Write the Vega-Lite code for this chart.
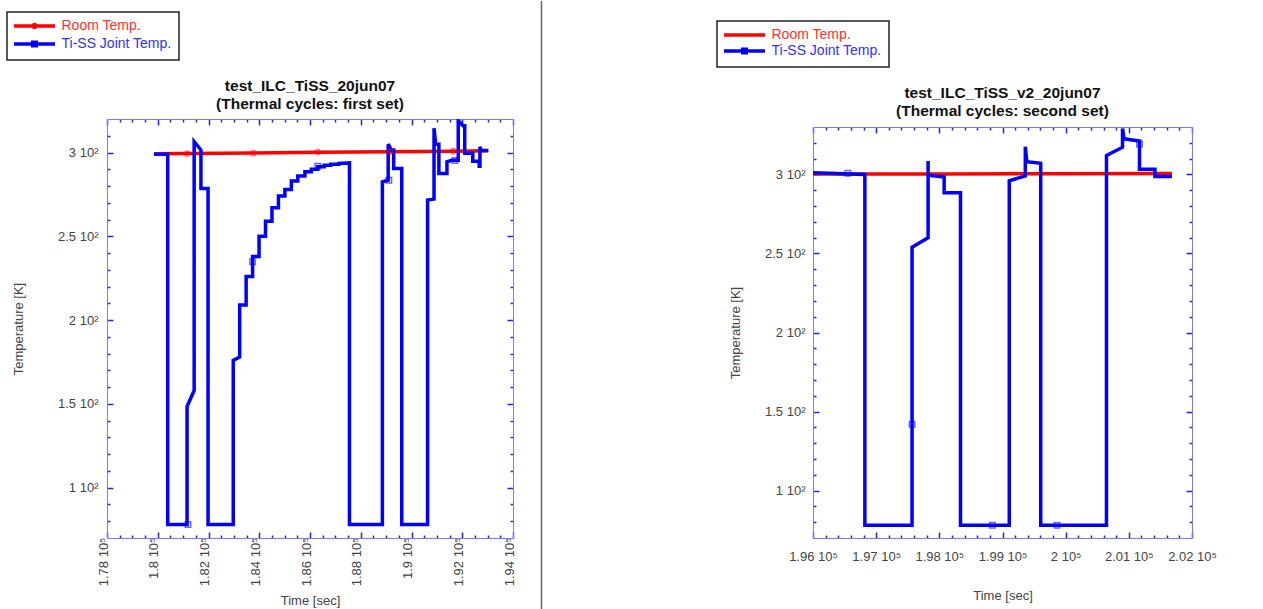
{
  "$schema": "https://vega.github.io/schema/vega-lite/v6.json",
  "padding": {"left": 6, "top": 0, "right": 5, "bottom": 0},
  "spacing": 24.5,
  "resolve": {"scale": {"color": "independent"}, "legend": {"color": "independent"}},
  "config": {
    "font": "Liberation Sans",
    "view": {"stroke": null},
    "axis": {"grid": false},
    "legend": {"strokeWidth": 1.5}
  },
  "datasets": {
    "sep": [{"v": 0}],
    "left_ti": [
      {"i": 1, "t": 179850, "T": 299, "series": "Ti-SS Joint Temp."},
      {"i": 2, "t": 180392, "T": 299, "series": "Ti-SS Joint Temp."},
      {"i": 3, "t": 180392, "T": 78, "series": "Ti-SS Joint Temp."},
      {"i": 4, "t": 181155, "T": 78, "series": "Ti-SS Joint Temp."},
      {"i": 5, "t": 181155, "T": 148.5, "series": "Ti-SS Joint Temp."},
      {"i": 6, "t": 181435, "T": 158, "series": "Ti-SS Joint Temp."},
      {"i": 7, "t": 181435, "T": 306.5, "series": "Ti-SS Joint Temp."},
      {"i": 8, "t": 181702, "T": 301.5, "series": "Ti-SS Joint Temp."},
      {"i": 9, "t": 181702, "T": 278.5, "series": "Ti-SS Joint Temp."},
      {"i": 10, "t": 181982, "T": 278.5, "series": "Ti-SS Joint Temp."},
      {"i": 11, "t": 181982, "T": 78, "series": "Ti-SS Joint Temp."},
      {"i": 12, "t": 182975, "T": 78, "series": "Ti-SS Joint Temp."},
      {"i": 13, "t": 182975, "T": 176, "series": "Ti-SS Joint Temp."},
      {"i": 14, "t": 183229, "T": 178, "series": "Ti-SS Joint Temp."},
      {"i": 15, "t": 183229, "T": 209, "series": "Ti-SS Joint Temp."},
      {"i": 16, "t": 183483, "T": 209, "series": "Ti-SS Joint Temp."},
      {"i": 17, "t": 183483, "T": 226, "series": "Ti-SS Joint Temp."},
      {"i": 18, "t": 183738, "T": 226, "series": "Ti-SS Joint Temp."},
      {"i": 19, "t": 183738, "T": 238, "series": "Ti-SS Joint Temp."},
      {"i": 20, "t": 183992, "T": 238, "series": "Ti-SS Joint Temp."},
      {"i": 21, "t": 183992, "T": 250, "series": "Ti-SS Joint Temp."},
      {"i": 22, "t": 184247, "T": 250, "series": "Ti-SS Joint Temp."},
      {"i": 23, "t": 184247, "T": 259, "series": "Ti-SS Joint Temp."},
      {"i": 24, "t": 184501, "T": 259, "series": "Ti-SS Joint Temp."},
      {"i": 25, "t": 184501, "T": 267, "series": "Ti-SS Joint Temp."},
      {"i": 26, "t": 184756, "T": 267, "series": "Ti-SS Joint Temp."},
      {"i": 27, "t": 184756, "T": 274, "series": "Ti-SS Joint Temp."},
      {"i": 28, "t": 185010, "T": 274, "series": "Ti-SS Joint Temp."},
      {"i": 29, "t": 185010, "T": 278, "series": "Ti-SS Joint Temp."},
      {"i": 30, "t": 185265, "T": 278, "series": "Ti-SS Joint Temp."},
      {"i": 31, "t": 185265, "T": 283, "series": "Ti-SS Joint Temp."},
      {"i": 32, "t": 185519, "T": 283, "series": "Ti-SS Joint Temp."},
      {"i": 33, "t": 185519, "T": 286, "series": "Ti-SS Joint Temp."},
      {"i": 34, "t": 185799, "T": 286, "series": "Ti-SS Joint Temp."},
      {"i": 35, "t": 185799, "T": 288.5, "series": "Ti-SS Joint Temp."},
      {"i": 36, "t": 186053, "T": 288.5, "series": "Ti-SS Joint Temp."},
      {"i": 37, "t": 186053, "T": 290, "series": "Ti-SS Joint Temp."},
      {"i": 38, "t": 186308, "T": 290, "series": "Ti-SS Joint Temp."},
      {"i": 39, "t": 186308, "T": 291.5, "series": "Ti-SS Joint Temp."},
      {"i": 40, "t": 186562, "T": 291.5, "series": "Ti-SS Joint Temp."},
      {"i": 41, "t": 186562, "T": 292.4, "series": "Ti-SS Joint Temp."},
      {"i": 42, "t": 186817, "T": 292.4, "series": "Ti-SS Joint Temp."},
      {"i": 43, "t": 186817, "T": 293, "series": "Ti-SS Joint Temp."},
      {"i": 44, "t": 187135, "T": 293, "series": "Ti-SS Joint Temp."},
      {"i": 45, "t": 187135, "T": 293.5, "series": "Ti-SS Joint Temp."},
      {"i": 46, "t": 187555, "T": 293.8, "series": "Ti-SS Joint Temp."},
      {"i": 47, "t": 187555, "T": 78, "series": "Ti-SS Joint Temp."},
      {"i": 48, "t": 188852, "T": 78, "series": "Ti-SS Joint Temp."},
      {"i": 49, "t": 188852, "T": 282.5, "series": "Ti-SS Joint Temp."},
      {"i": 50, "t": 189081, "T": 283.5, "series": "Ti-SS Joint Temp."},
      {"i": 51, "t": 189081, "T": 305, "series": "Ti-SS Joint Temp."},
      {"i": 52, "t": 189208, "T": 301.5, "series": "Ti-SS Joint Temp."},
      {"i": 53, "t": 189298, "T": 301.5, "series": "Ti-SS Joint Temp."},
      {"i": 54, "t": 189298, "T": 290.5, "series": "Ti-SS Joint Temp."},
      {"i": 55, "t": 189616, "T": 290.5, "series": "Ti-SS Joint Temp."},
      {"i": 56, "t": 189616, "T": 78, "series": "Ti-SS Joint Temp."},
      {"i": 57, "t": 190634, "T": 78, "series": "Ti-SS Joint Temp."},
      {"i": 58, "t": 190634, "T": 271.6, "series": "Ti-SS Joint Temp."},
      {"i": 59, "t": 190888, "T": 272.2, "series": "Ti-SS Joint Temp."},
      {"i": 60, "t": 190888, "T": 314.5, "series": "Ti-SS Joint Temp."},
      {"i": 61, "t": 190952, "T": 305, "series": "Ti-SS Joint Temp."},
      {"i": 62, "t": 191079, "T": 305, "series": "Ti-SS Joint Temp."},
      {"i": 63, "t": 191079, "T": 287.5, "series": "Ti-SS Joint Temp."},
      {"i": 64, "t": 191397, "T": 287.5, "series": "Ti-SS Joint Temp."},
      {"i": 65, "t": 191397, "T": 294.5, "series": "Ti-SS Joint Temp."},
      {"i": 66, "t": 191588, "T": 295.4, "series": "Ti-SS Joint Temp."},
      {"i": 67, "t": 191842, "T": 295.4, "series": "Ti-SS Joint Temp."},
      {"i": 68, "t": 191842, "T": 319, "series": "Ti-SS Joint Temp."},
      {"i": 69, "t": 192033, "T": 316, "series": "Ti-SS Joint Temp."},
      {"i": 70, "t": 192097, "T": 316, "series": "Ti-SS Joint Temp."},
      {"i": 71, "t": 192097, "T": 299.5, "series": "Ti-SS Joint Temp."},
      {"i": 72, "t": 192415, "T": 299.5, "series": "Ti-SS Joint Temp."},
      {"i": 73, "t": 192415, "T": 294.8, "series": "Ti-SS Joint Temp."},
      {"i": 74, "t": 192669, "T": 294.8, "series": "Ti-SS Joint Temp."},
      {"i": 75, "t": 192669, "T": 291.8, "series": "Ti-SS Joint Temp."},
      {"i": 76, "t": 192697, "T": 291.8, "series": "Ti-SS Joint Temp."},
      {"i": 77, "t": 192697, "T": 303.5, "series": "Ti-SS Joint Temp."},
      {"i": 78, "t": 192740, "T": 301.2, "series": "Ti-SS Joint Temp."},
      {"i": 79, "t": 193026, "T": 301.2, "series": "Ti-SS Joint Temp."}
    ],
    "left_room": [
      {"i": 1, "t": 179850, "T": 299.3, "series": "Room Temp."},
      {"i": 2, "t": 181155, "T": 299.4, "series": "Room Temp."},
      {"i": 3, "t": 183763, "T": 299.7, "series": "Room Temp."},
      {"i": 4, "t": 186308, "T": 300.2, "series": "Room Temp."},
      {"i": 5, "t": 189170, "T": 300.5, "series": "Room Temp."},
      {"i": 6, "t": 191650, "T": 300.8, "series": "Room Temp."},
      {"i": 7, "t": 193026, "T": 301.0, "series": "Room Temp."}
    ],
    "left_room_markers": [
      {"t": 181155, "T": 299.4},
      {"t": 183763, "T": 299.7},
      {"t": 186308, "T": 300.2},
      {"t": 189170, "T": 300.5},
      {"t": 191650, "T": 300.8}
    ],
    "left_ti_markers": [
      {"t": 181190, "T": 78},
      {"t": 183738, "T": 234.8},
      {"t": 186308, "T": 291.8},
      {"t": 189107, "T": 283.5},
      {"t": 191710, "T": 295.2}
    ],
    "right_ti": [
      {"i": 1, "t": 196000, "T": 301, "series": "Ti-SS Joint Temp."},
      {"i": 2, "t": 196821, "T": 300, "series": "Ti-SS Joint Temp."},
      {"i": 3, "t": 196821, "T": 78, "series": "Ti-SS Joint Temp."},
      {"i": 4, "t": 197568, "T": 78, "series": "Ti-SS Joint Temp."},
      {"i": 5, "t": 197568, "T": 254, "series": "Ti-SS Joint Temp."},
      {"i": 6, "t": 197822, "T": 260, "series": "Ti-SS Joint Temp."},
      {"i": 7, "t": 197822, "T": 308.5, "series": "Ti-SS Joint Temp."},
      {"i": 8, "t": 197822, "T": 299.5, "series": "Ti-SS Joint Temp."},
      {"i": 9, "t": 198076, "T": 298.3, "series": "Ti-SS Joint Temp."},
      {"i": 10, "t": 198076, "T": 288.4, "series": "Ti-SS Joint Temp."},
      {"i": 11, "t": 198335, "T": 288.4, "series": "Ti-SS Joint Temp."},
      {"i": 12, "t": 198335, "T": 78, "series": "Ti-SS Joint Temp."},
      {"i": 13, "t": 199107, "T": 78, "series": "Ti-SS Joint Temp."},
      {"i": 14, "t": 199107, "T": 296, "series": "Ti-SS Joint Temp."},
      {"i": 15, "t": 199361, "T": 299, "series": "Ti-SS Joint Temp."},
      {"i": 16, "t": 199361, "T": 317.5, "series": "Ti-SS Joint Temp."},
      {"i": 17, "t": 199385, "T": 308, "series": "Ti-SS Joint Temp."},
      {"i": 18, "t": 199605, "T": 307, "series": "Ti-SS Joint Temp."},
      {"i": 19, "t": 199605, "T": 78, "series": "Ti-SS Joint Temp."},
      {"i": 20, "t": 200646, "T": 78, "series": "Ti-SS Joint Temp."},
      {"i": 21, "t": 200646, "T": 312, "series": "Ti-SS Joint Temp."},
      {"i": 22, "t": 200900, "T": 317.2, "series": "Ti-SS Joint Temp."},
      {"i": 23, "t": 200900, "T": 329, "series": "Ti-SS Joint Temp."},
      {"i": 24, "t": 200925, "T": 322.5, "series": "Ti-SS Joint Temp."},
      {"i": 25, "t": 201169, "T": 321.2, "series": "Ti-SS Joint Temp."},
      {"i": 26, "t": 201169, "T": 303.2, "series": "Ti-SS Joint Temp."},
      {"i": 27, "t": 201413, "T": 303.2, "series": "Ti-SS Joint Temp."},
      {"i": 28, "t": 201413, "T": 298.7, "series": "Ti-SS Joint Temp."},
      {"i": 29, "t": 201682, "T": 298.7, "series": "Ti-SS Joint Temp."}
    ],
    "right_room": [
      {"i": 1, "t": 196000, "T": 300.2, "series": "Room Temp."},
      {"i": 2, "t": 198000, "T": 300.3, "series": "Room Temp."},
      {"i": 3, "t": 200000, "T": 300.5, "series": "Room Temp."},
      {"i": 4, "t": 201682, "T": 300.6, "series": "Room Temp."}
    ],
    "right_ti_markers": [
      {"t": 196552, "T": 300.8},
      {"t": 197568, "T": 142},
      {"t": 198839, "T": 78},
      {"t": 199863, "T": 78},
      {"t": 201169, "T": 319.3}
    ]
  },
  "hconcat": [
    {
      "spacing": 9,
      "resolve": {"scale": {"color": "independent"}, "legend": {"color": "independent"}},
      "vconcat": [
        {"data": {"values": []}, "mark": "point", "width": 1, "height": 1},
        {
          "width": 406,
          "height": 419,
          "title": {
            "text": ["test_ILC_TiSS_20jun07", "(Thermal cycles: first set)"],
            "fontSize": 15.5, "fontWeight": "bold", "color": "#111",
            "anchor": "middle", "frame": "group", "offset": 7, "lineHeight": 18, "dy": 108
          },
          "resolve": {"axis": {"x": "independent", "y": "independent"}},
          "layer": [
            {
              "data": {"name": "left_room"},
              "mark": {"type": "line", "strokeWidth": 3.5, "clip": true},
              "encoding": {
                "x": {
                  "field": "t", "type": "quantitative",
                  "scale": {"domain": [178000, 194000], "nice": false, "zero": false},
                  "axis": {
                    "orient": "bottom",
                    "values": [178000,178500,179000,179500,180000,180500,181000,181500,182000,182500,183000,183500,184000,184500,185000,185500,186000,186500,187000,187500,188000,188500,189000,189500,190000,190500,191000,191500,192000,192500,193000,193500,194000],
                    "labelExpr": "datum.value % 2000 === 0 ? (datum.value / 100000) + ' 10⁵' : ''",
                    "labelAngle": 270, "labelAlign": "right", "labelBaseline": "alphabetic",
                    "labelPadding": 5, "labelFontSize": 13, "labelColor": "#444",
                    "labelOverlap": false, "labelFlush": false,
                    "tickSize": {"condition": {"test": "datum.value % 2000 === 0", "value": -6}, "value": -3},
                    "tickColor": "#2020ff", "tickWidth": 1.5,
                    "domainColor": "#7a7aff", "domainWidth": 1,
                    "title": "Time [sec]", "titleY": 62, "titleBaseline": "middle",
                    "titleFontSize": 13, "titleFontWeight": "normal", "titleColor": "#444"
                  }
                },
                "y": {
                  "field": "T", "type": "quantitative",
                  "scale": {"domain": [70, 320], "nice": false, "zero": false},
                  "axis": {
                    "orient": "left",
                    "values": [80,90,100,110,120,130,140,150,160,170,180,190,200,210,220,230,240,250,260,270,280,290,300,310],
                    "labelExpr": "datum.value % 50 === 0 ? (datum.value / 100) + ' 10²' : ''",
                    "labelPadding": 15, "labelFontSize": 13, "labelColor": "#444",
                    "labelOverlap": false, "labelFlush": false,
                    "tickSize": {"condition": {"test": "datum.value % 50 === 0", "value": -6}, "value": -3},
                    "tickColor": "#2020ff", "tickWidth": 1.5,
                    "domainColor": "#7a7aff", "domainWidth": 1,
                    "title": "Temperature [K]", "titleX": -89, "titleBaseline": "middle",
                    "titleFontSize": 13, "titleFontWeight": "normal", "titleColor": "#444"
                  }
                },
                "order": {"field": "i", "type": "quantitative"},
                "color": {
                  "field": "series", "type": "nominal",
                  "scale": {"domain": ["Room Temp.", "Ti-SS Joint Temp."], "range": ["#ff0000", "#0000ff"]},
                  "legend": {
                    "orient": "none", "legendX": -100, "legendY": -107, "direction": "vertical",
                    "title": null,
                    "symbolType": {"expr": "datum.value === 'Room Temp.' ? 'M-4.1,0H4.1M-0.3,0A0.3,0.3,0,1,1,0.3,0A0.3,0.3,0,1,1,-0.3,0' : 'M-4.1,0H4.1M-0.35,-0.35H0.35V0.35H-0.35Z'"},
                    "symbolSize": 100, "symbolStrokeWidth": 3.5, "symbolOffset": 13.5,
                    "labelFontSize": 14, "labelOffset": 20,
                    "labelColor": {"expr": "datum.value === 'Room Temp.' ? '#ff3030' : '#3030ff'"},
                    "padding": 7, "rowPadding": 0, "strokeColor": "#222", "fillColor": "#ffffff", "cornerRadius": 0
                  }
                }
              }
            },
            {
              "data": {"name": "left_ti"},
              "mark": {"type": "line", "strokeWidth": 3.5, "clip": true},
              "encoding": {
                "x": {
                  "field": "t", "type": "quantitative",
                  "axis": {
                    "orient": "top",
                    "values": [178000,178500,179000,179500,180000,180500,181000,181500,182000,182500,183000,183500,184000,184500,185000,185500,186000,186500,187000,187500,188000,188500,189000,189500,190000,190500,191000,191500,192000,192500,193000,193500,194000],
                    "labels": false, "title": null,
                    "tickSize": {"condition": {"test": "datum.value % 2000 === 0", "value": -6}, "value": -3},
                    "tickColor": "#2020ff", "tickWidth": 1.5,
                    "domainColor": "#7a7aff", "domainWidth": 1
                  }
                },
                "y": {
                  "field": "T", "type": "quantitative",
                  "axis": {
                    "orient": "right",
                    "values": [80,90,100,110,120,130,140,150,160,170,180,190,200,210,220,230,240,250,260,270,280,290,300,310],
                    "labels": false, "title": null,
                    "tickSize": {"condition": {"test": "datum.value % 50 === 0", "value": -6}, "value": -3},
                    "tickColor": "#2020ff", "tickWidth": 1.5,
                    "domainColor": "#7a7aff", "domainWidth": 1
                  }
                },
                "order": {"field": "i", "type": "quantitative"},
                "color": {"field": "series", "type": "nominal"}
              }
            },
            {
              "data": {"name": "left_room_markers"},
              "mark": {"type": "point", "shape": "circle", "filled": false, "color": "#ff0000", "size": 30, "strokeWidth": 1.2, "opacity": 0.6, "clip": true},
              "encoding": {
                "x": {"field": "t", "type": "quantitative", "axis": null},
                "y": {"field": "T", "type": "quantitative", "axis": null}
              }
            },
            {
              "data": {"name": "left_ti_markers"},
              "mark": {"type": "point", "shape": "square", "filled": false, "color": "#0000ff", "size": 30, "strokeWidth": 1.5, "opacity": 0.6, "clip": true},
              "encoding": {
                "x": {"field": "t", "type": "quantitative", "axis": null},
                "y": {"field": "T", "type": "quantitative", "axis": null}
              }
            }
          ]
        }
      ]
    },
    {
      "data": {"name": "sep"},
      "width": 150,
      "height": 609,
      "mark": {"type": "rule", "color": "#666666", "strokeWidth": 1.5},
      "encoding": {
        "x": {"field": "v", "type": "quantitative", "scale": {"domain": [0, 1]}, "axis": null}
      }
    },
    {
      "spacing": 18,
      "resolve": {"scale": {"color": "independent"}, "legend": {"color": "independent"}},
      "vconcat": [
        {"data": {"values": []}, "mark": "point", "width": 1, "height": 1},
        {
          "width": 379,
          "height": 411,
          "title": {
            "text": ["test_ILC_TiSS_v2_20jun07", "(Thermal cycles: second set)"],
            "fontSize": 15.5, "fontWeight": "bold", "color": "#111",
            "anchor": "middle", "frame": "group", "offset": 7, "lineHeight": 18, "dy": 106
          },
          "resolve": {"axis": {"x": "independent", "y": "independent"}},
          "layer": [
            {
              "data": {"name": "right_room"},
              "mark": {"type": "line", "strokeWidth": 3.5, "clip": true},
              "encoding": {
                "x": {
                  "field": "t", "type": "quantitative",
                  "scale": {"domain": [196000, 202000], "nice": false, "zero": false},
                  "axis": {
                    "orient": "bottom",
                    "values": [196000,196200,196400,196600,196800,197000,197200,197400,197600,197800,198000,198200,198400,198600,198800,199000,199200,199400,199600,199800,200000,200200,200400,200600,200800,201000,201200,201400,201600,201800,202000],
                    "labelExpr": "datum.value % 1000 === 0 ? (datum.value / 100000) + ' 10⁵' : ''",
                    "labelAngle": 0, "labelAlign": "center", "labelBaseline": "top",
                    "labelPadding": 18, "labelFontSize": 13, "labelColor": "#444",
                    "labelOverlap": false, "labelFlush": false,
                    "tickSize": {"condition": {"test": "datum.value % 1000 === 0", "value": -6}, "value": -3},
                    "tickColor": "#2020ff", "tickWidth": 1.5,
                    "domainColor": "#7a7aff", "domainWidth": 1,
                    "title": "Time [sec]", "titleY": 57, "titleBaseline": "middle",
                    "titleFontSize": 13, "titleFontWeight": "normal", "titleColor": "#444"
                  }
                },
                "y": {
                  "field": "T", "type": "quantitative",
                  "scale": {"domain": [70, 330], "nice": false, "zero": false},
                  "axis": {
                    "orient": "left",
                    "values": [80,90,100,110,120,130,140,150,160,170,180,190,200,210,220,230,240,250,260,270,280,290,300,310,320],
                    "labelExpr": "datum.value % 50 === 0 ? (datum.value / 100) + ' 10²' : ''",
                    "labelPadding": 14, "labelFontSize": 13, "labelColor": "#444",
                    "labelOverlap": false, "labelFlush": false,
                    "tickSize": {"condition": {"test": "datum.value % 50 === 0", "value": -6}, "value": -3},
                    "tickColor": "#2020ff", "tickWidth": 1.5,
                    "domainColor": "#7a7aff", "domainWidth": 1,
                    "title": "Temperature [K]", "titleX": -78, "titleBaseline": "middle",
                    "titleFontSize": 13, "titleFontWeight": "normal", "titleColor": "#444"
                  }
                },
                "order": {"field": "i", "type": "quantitative"},
                "color": {
                  "field": "series", "type": "nominal",
                  "scale": {"domain": ["Room Temp.", "Ti-SS Joint Temp."], "range": ["#ff0000", "#0000ff"]},
                  "legend": {
                    "orient": "none", "legendX": -96, "legendY": -106, "direction": "vertical",
                    "title": null,
                    "symbolType": {"expr": "datum.value === 'Room Temp.' ? 'M-4.1,0H4.1' : 'M-4.1,0H4.1M-0.35,-0.35H0.35V0.35H-0.35Z'"},
                    "symbolSize": 100, "symbolStrokeWidth": 3.5, "symbolOffset": 13.5,
                    "labelFontSize": 14, "labelOffset": 20,
                    "labelColor": {"expr": "datum.value === 'Room Temp.' ? '#ff3030' : '#3030ff'"},
                    "padding": 7, "rowPadding": 0, "strokeColor": "#222", "fillColor": "#ffffff", "cornerRadius": 0
                  }
                }
              }
            },
            {
              "data": {"name": "right_ti"},
              "mark": {"type": "line", "strokeWidth": 3.5, "clip": true},
              "encoding": {
                "x": {
                  "field": "t", "type": "quantitative",
                  "axis": {
                    "orient": "top",
                    "values": [196000,196200,196400,196600,196800,197000,197200,197400,197600,197800,198000,198200,198400,198600,198800,199000,199200,199400,199600,199800,200000,200200,200400,200600,200800,201000,201200,201400,201600,201800,202000],
                    "labels": false, "title": null,
                    "tickSize": {"condition": {"test": "datum.value % 1000 === 0", "value": -6}, "value": -3},
                    "tickColor": "#2020ff", "tickWidth": 1.5,
                    "domainColor": "#7a7aff", "domainWidth": 1
                  }
                },
                "y": {
                  "field": "T", "type": "quantitative",
                  "axis": {
                    "orient": "right",
                    "values": [80,90,100,110,120,130,140,150,160,170,180,190,200,210,220,230,240,250,260,270,280,290,300,310,320],
                    "labels": false, "title": null,
                    "tickSize": {"condition": {"test": "datum.value % 50 === 0", "value": -6}, "value": -3},
                    "tickColor": "#2020ff", "tickWidth": 1.5,
                    "domainColor": "#7a7aff", "domainWidth": 1
                  }
                },
                "order": {"field": "i", "type": "quantitative"},
                "color": {"field": "series", "type": "nominal"}
              }
            },
            {
              "data": {"name": "right_ti_markers"},
              "mark": {"type": "point", "shape": "square", "filled": false, "color": "#0000ff", "size": 30, "strokeWidth": 1.5, "opacity": 0.6, "clip": true},
              "encoding": {
                "x": {"field": "t", "type": "quantitative", "axis": null},
                "y": {"field": "T", "type": "quantitative", "axis": null}
              }
            }
          ]
        }
      ]
    }
  ]
}
